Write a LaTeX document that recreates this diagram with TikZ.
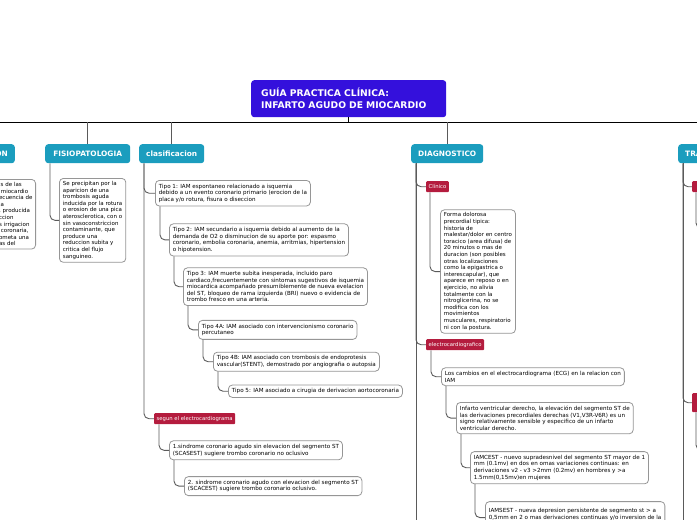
\documentclass[tikz,border=0pt]{standalone}
\usepackage{fontspec}
\setmainfont{DejaVu Sans}
\usetikzlibrary{positioning}

\definecolor{rootblue}{RGB}{52,16,220}
\definecolor{topicteal}{RGB}{27,157,190}
\definecolor{tagred}{RGB}{180,28,62}
\definecolor{notegray}{RGB}{150,150,150}
\definecolor{linkgray}{RGB}{90,90,90}

% a line whose first part runs off the left edge
\newcommand{\cutln}[2]{\leavevmode\llap{#1}\mbox{#2}}

\tikzset{
  root/.style={fill=rootblue, text=white, rounded corners=3pt, anchor=north west,
    align=left, text width=175pt, inner xsep=10pt, minimum height=37pt,
    font=\fontsize{9.2}{12}\selectfont\bfseries},
  topic/.style={fill=topicteal, text=white, rounded corners=3pt, anchor=north west,
    minimum height=19pt, inner xsep=7pt, font=\fontsize{7.4}{8}\selectfont\bfseries},
  tag/.style={fill=tagred, text=white, rounded corners=1pt, anchor=north west,
    inner xsep=2.5pt, inner ysep=0pt, minimum height=11pt, font=\fontsize{5.3}{6}\selectfont},
  note/.style={draw=notegray, fill=white, rounded corners=4pt, line width=0.8pt,
    anchor=north west, align=left, inner xsep=3.5pt, inner ysep=3.5pt,
    font=\fontsize{5.6}{6.6}\selectfont},
  tight/.style={inner ysep=3pt, font=\fontsize{5.5}{6.6}\selectfont},
  link/.style={draw=linkgray, line width=0.9pt, rounded corners=5pt},
  spine/.style={draw=black, line width=0.9pt},
}

\begin{document}
\begin{tikzpicture}[x=1pt, y=-1pt]
  \useasboundingbox (0,0) rectangle (697,520);
  \clip (0,0) rectangle (697,520);

  % central topic
  \node[root] (root) at (251,80) {GUÍA PRACTICA CLÍNICA:\\INFARTO AGUDO DE MIOCARDIO};
  \coordinate (spineL) at (0,122);
  \coordinate (spineR) at (697,122);
  \draw[spine] (spineL) -- (spineR);
  \draw[spine] (root.south) -- (root.south |- spineL);

  % main topics
  \node[topic, anchor=north east] (defi) at (15,144) {DEFINICION};
  \node[topic, minimum width=85pt] (fisio) at (45,144) {FISIOPATOLOGIA};
  \node[topic, minimum width=63pt] (clasi) at (139,144) {clasificacion};
  \node[topic, minimum width=72pt] (diag) at (411,144) {DIAGNOSTICO};
  \node[topic] (trat) at (678,144) {TRATAMIENTO};
  \foreach \t in {defi, fisio, clasi, diag, trat}
    \draw[link] (\t.north) -- (\t.north |- spineL);

  % definicion
  \node[note, tight, anchor=north east, text width=33pt] (definote) at (36,179)
    {\cutln{Necros}{is de las}\\\cutln{células del}{ miocardio}\\
     \cutln{como cons}{ecuencia de}\\\cutln{de la isquem}{ia}\\
     \cutln{prolongada}{, producida}\\\cutln{por la redu}{ccion}\\
     \cutln{súbita de la}{s irrigacion}\\\cutln{sanguínea}{ coronaria,}\\
     \cutln{que compr}{ometa una}\\\cutln{o más zon}{as del}};
  \draw[link] ([xshift=5pt]defi.south west) |- (definote.west);

  % fisiopatologia
  \node[note, tight] (fisionote) at (59,178)
    {Se precipitan por la\\aparicion de una\\trombosis aguda\\inducida por la rotura\\
     o erosion de una pica\\aterosclerotica, con o\\sin vasoconstriccion\\contaminante, que\\
     produce una\\reduccion subita y\\critica del flujo\\sanguineo.};
  \draw[link] ([xshift=5pt]fisio.south west) |- (fisionote.west);

  % clasificacion
  \node[note] (t1) at (155,180)
    {Tipo 1: IAM espontaneo relacionado a isquemia\\debido a un evento coronario primario (erocion de la\\placa y/o rotura, fisura o diseccion};
  \node[note] (t2) [below right=17pt and 14pt of t1.south west]
    {Tipo 2: IAM secundario a isquemia debido al aumento de la\\demanda de O2 o disminucion de su aporte por: espasmo\\coronario, embolia coronaria, anemia, arritmias, hipertension\\o hipotension.};
  \node[note] (t3) [below right=11pt and 14pt of t2.south west]
    {Tipo 3: IAM muerte subita inesperada, incluido paro\\cardiaco,frecuentemente con sintomas sugestivos de isquemia\\miocardica acompañado presumiblemente de nueva evelacion\\del ST, bloqueo de rama izquierda (BRI) nuevo o evidencia de\\trombo fresco en una arteria.};
  \node[note] (t4a) [below right=14pt and 15pt of t3.south west]
    {Tipo 4A: IAM asociado con intervencionismo coronario\\percutaneo};
  \node[note] (t4b) [below right=12pt and 15pt of t4a.south west]
    {Tipo 4B: IAM asociado con trombosis de endoprotesis\\vascular(STENT), demostrado por angiografia o autopsia};
  \node[note] (t5) [below right=13pt and 15pt of t4b.south west]
    {Tipo 5: IAM asociado a cirugia de derivacion aortocoronaria};
  \node[tag] (segun) at (154,413) {segun el electrocardiograma};
  \node[note] (s1) [below right=16pt and 15pt of segun.south west]
    {1.sindrome coronario agudo sin elevacion del segmento ST\\(SCASEST) sugiere trombo coronario no oclusivo};
  \node[note] (s2) [below right=16pt and 15pt of s1.south west]
    {2. sindrome coronario agudo con elevacion del segmento ST\\(SCACEST) sugiere trombo coronario oclusivo.};

  \draw[link] ([xshift=5pt]clasi.south west) |- (t1.west);
  \draw[link] ([xshift=5pt]clasi.south west) |- (segun.west);
  \draw[link] ([xshift=5pt]t1.south west) |- (t2.west);
  \draw[link] ([xshift=5pt]t2.south west) |- (t3.west);
  \draw[link] ([xshift=5pt]t3.south west) |- (t4a.west);
  \draw[link] ([xshift=5pt]t4a.south west) |- (t4b.west);
  \draw[link] ([xshift=5pt]t4b.south west) |- (t5.west);
  \draw[link] ([xshift=5pt]segun.south west) |- (s1.west);
  \draw[link] ([xshift=5pt]s1.south west) |- (s2.west);

  % diagnostico
  \node[tag] (clin) at (426,181) {Clínico};
  \node[note, tight] (clinnote) [below right=17pt and 14pt of clin.south west]
    {Forma dolorosa\\precordial tipica:\\historia de\\malestar/dolor en centro\\toracico (area difusa) de\\
     20 minutos o mas de\\duracion (son posibles\\otras localizaciones\\como la epigastrica o\\
     interescapular), que\\aparece en reposo o en\\ejercicio, no alivia\\totalmente con la\\
     nitroglicerina, no se\\modifica con los\\movimientos\\musculares, respiratorio\\ni con la postura.};
  \node[tag] (ecg) at (426,339) {electrocardiografico};
  \node[note] (e1) [below right=17pt and 15pt of ecg.south west]
    {Los cambios en el electrocardiograma (ECG) en la relacion con\\IAM};
  \node[note] (e2) [below right=16pt and 15pt of e1.south west]
    {Infarto ventricular derecho, la elevación del segmento ST de\\las derivaciones precordiales derechas (V1,V3R-V6R) es un\\signo relativamente sensible y especifico de un infarto\\ventricular derecho.};
  \node[note] (e3) [below right=17pt and 14pt of e2.south west]
    {IAMCEST - nuevo supradesnivel del segmento ST mayor de 1\\mm (0.1mv) en dos en omas variaciones continuas: en\\derivaciones v2 - v3 >2mm (0.2mv) en hombres y >a\\1.5mm(0,15mv)en mujeres};
  \node[note, minimum height=32pt] (e4) [below right=17pt and 15pt of e3.south west]
    {IAMSEST - nueva depresion persistente de segmento st > a\\0,5mm en 2 o mas derivaciones continuas y/o inversion de la\\onda T > a 0,1mv en 2 derivaciones continuasonda R};
  \coordinate (diagend) at (416,530);
  \draw[link] ([xshift=5pt]diag.south west) -- (diagend);
  \draw[link] ([xshift=5pt]diag.south west) |- (clin.west);
  \draw[link] ([xshift=5pt]diag.south west) |- (ecg.west);
  \draw[link] ([xshift=4pt]clin.south west) |- (clinnote.west);
  \draw[link] ([xshift=5pt]ecg.south west) |- (e1.west);
  \draw[link] ([xshift=5pt]e1.south west) |- (e2.west);
  \draw[link] ([xshift=5pt]e2.south west) |- (e3.west);
  \draw[link] ([xshift=5pt]e3.south west) |- (e4.west);

  % tratamiento
  \node[tag, minimum width=40pt] (tr1) at (692,181) {};
  \node[tag, minimum width=40pt, minimum height=19pt] (tr2) at (692,393) {};
  \coordinate (tratend) at (683,530);
  \coordinate (tr1sub) at (712,228);
  \coordinate (tr2sub) at (712,450);
  \draw[link] ([xshift=5pt]trat.south west) -- (tratend);
  \draw[link] ([xshift=5pt]trat.south west) |- (tr1.west);
  \draw[link] ([xshift=5pt]trat.south west) |- (tr2.west);
  \draw[link] ([xshift=4pt]tr1.south west) |- (tr1sub);
  \draw[link] ([xshift=4pt]tr2.south west) |- (tr2sub);
\end{tikzpicture}
\end{document}
